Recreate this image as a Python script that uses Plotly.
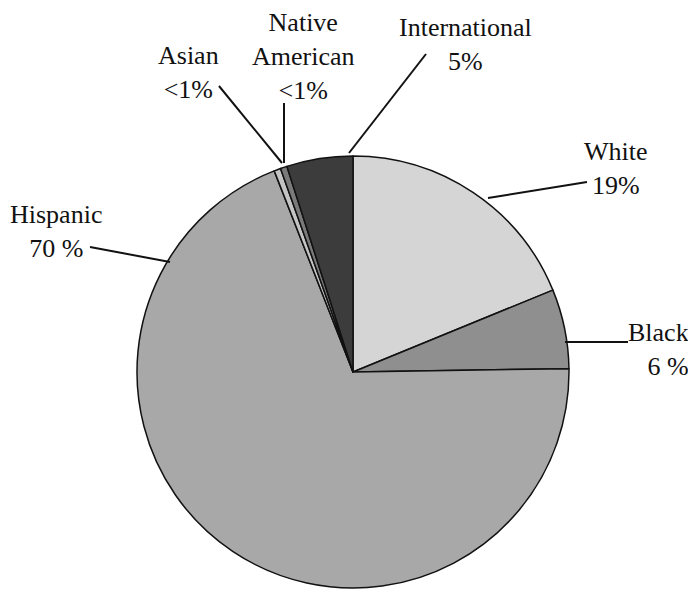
import plotly.graph_objects as go

# data
groups = ["White", "Black", "Hispanic", "Asian", "Native American", "International"]
shares = [19, 6, 70, 0.5, 0.5, 5]
share_text = ["19%", "6 %", "70 %", "&lt;1%", "&lt;1%", "5%"]
label_text = ["White", "Black", "Hispanic", "Asian", "Native<br>American", "International"]
fills = ["#d5d5d5", "#8f8f8f", "#a8a8a8", "#c4c4c4", "#7a7a7a", "#3c3c3c"]

# the page body has an 8px margin, so the figure starts at (8, 8)
OFF = 8
W, H = 696 - OFF, 593 - OFF


def px(x, y):
    # screen pixel position -> paper coords
    return (x - OFF) / W, 1 - (y - OFF) / H


# label placement (pixel centre of text block, alignment) and leader lines
label_pos = {
    "White": (616, 168, "center"),
    "Black": (691, 349, "right"),
    "Hispanic": (56, 232, "center"),
    "Asian": (188, 72, "center"),
    "Native American": (303, 56, "center"),
    "International": (465, 44, "center"),
}
leaders = {
    "White": ((488, 198), (587, 182)),
    "Black": ((565, 342), (628, 342)),
    "Hispanic": ((170, 262), (90, 247)),
    "Asian": ((282, 163), (219, 86)),
    "Native American": ((284, 163), (284, 103)),
    "International": ((349, 153), (426, 54)),
}

cx, cy, r = 353, 372, 216
x0, y1 = px(cx - r, cy - r)
x1, y0 = px(cx + r, cy + r)

fig = go.Figure(go.Pie(
    labels=groups,
    values=shares,
    sort=False,
    direction="clockwise",
    rotation=0,
    textinfo="none",
    hoverinfo="label+percent",
    marker=dict(colors=fills, line=dict(color="#111111", width=1.5)),
    domain=dict(x=[x0, x1], y=[y0, y1]),
))

for g, lab, val in zip(groups, label_text, share_text):
    tx, ty, al = label_pos[g]
    ax_, ay_ = px(tx, ty)
    fig.add_annotation(
        x=ax_, y=ay_, xref="paper", yref="paper",
        text=f"{lab}<br>{val}",
        showarrow=False,
        align=al,
        xanchor="right" if al == "right" else "center",
        yanchor="middle",
        font=dict(family="Liberation Serif", size=26, color="#111111"),
    )
    (hx, hy), (lx, ly) = leaders[g]
    p0 = px(hx, hy)
    p1 = px(lx, ly)
    fig.add_shape(type="line", xref="paper", yref="paper",
                  x0=p0[0], y0=p0[1], x1=p1[0], y1=p1[1],
                  line=dict(color="#111111", width=2))

fig.update_layout(
    width=W, height=H,
    margin=dict(l=0, r=0, t=0, b=0),
    paper_bgcolor="white",
    plot_bgcolor="white",
    showlegend=False,
)

fig.write_html("out.html")
